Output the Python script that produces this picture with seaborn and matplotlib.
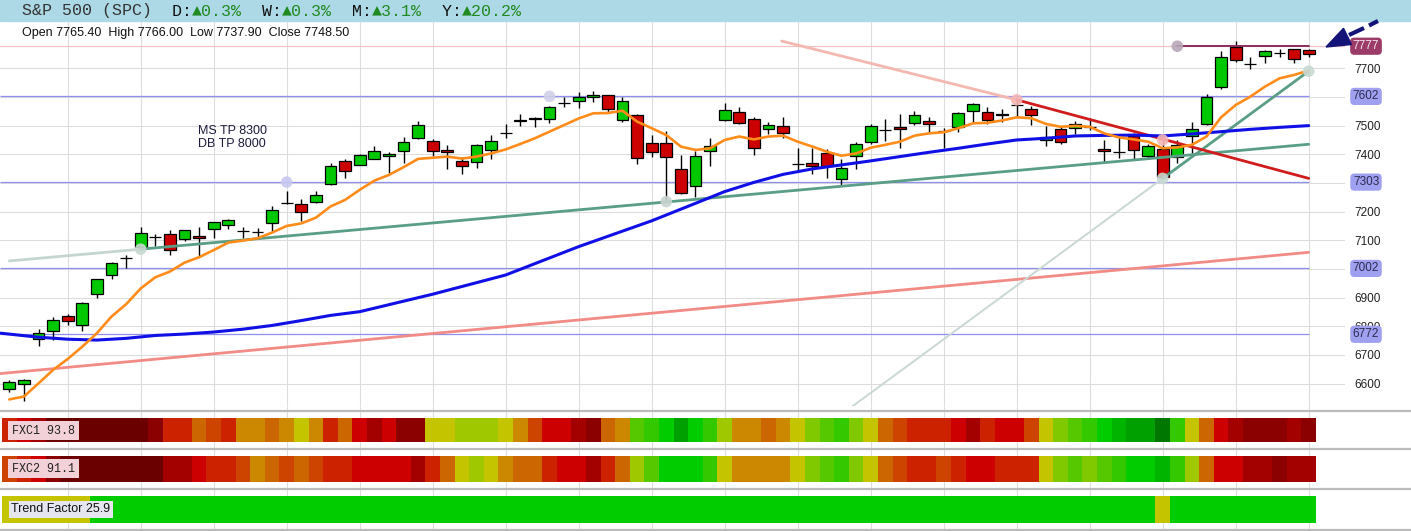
import numpy as np
import seaborn as sns
import matplotlib.pyplot as plt
from matplotlib.colors import ListedColormap
from matplotlib.patches import Rectangle, Polygon

# ---- candles ----
opens = [6583, 6600, 6755, 6783, 6835, 6804, 6912, 6978, 7037, 7076,
         7112, 7121, 7104, 7114, 7138, 7152, 7134, 7130, 7159, 7231,
         7226, 7235, 7295, 7376, 7364, 7385, 7393, 7410, 7458, 7445,
         7414, 7376, 7372, 7414, 7474, 7518, 7525, 7523, 7579, 7586,
         7601, 7606, 7519, 7537, 7439, 7439, 7348, 7288, 7413, 7519,
         7547, 7522, 7487, 7498, 7365, 7369, 7403, 7313, 7393, 7442,
         7485, 7494, 7508, 7515, 7481, 7494, 7550, 7547, 7542, 7571,
         7557, 7449, 7487, 7491, 7496, 7419, 7409, 7464, 7395, 7419,
         7389, 7464, 7505, 7634, 7773, 7714, 7743, 7755, 7766, 7765.4]
highs = [6611, 6615, 6790, 6833, 6843, 6884, 6966, 7024, 7049, 7145,
         7121, 7135, 7136, 7145, 7164, 7176, 7148, 7142, 7220, 7272,
         7243, 7271, 7370, 7384, 7401, 7429, 7408, 7460, 7516, 7453,
         7431, 7392, 7436, 7467, 7506, 7539, 7530, 7570, 7599, 7616,
         7621, 7606, 7601, 7542, 7467, 7481, 7398, 7412, 7458, 7580,
         7565, 7530, 7512, 7530, 7423, 7423, 7417, 7385, 7443, 7506,
         7523, 7540, 7551, 7530, 7491, 7549, 7579, 7565, 7558, 7598,
         7567, 7498, 7500, 7517, 7526, 7450, 7462, 7473, 7435, 7450,
         7450, 7513, 7610, 7760, 7795, 7738, 7764, 7769, 7769, 7766.0]
lows = [6572, 6540, 6733, 6752, 6804, 6785, 6900, 6964, 7005, 7066,
        7080, 7047, 7099, 7041, 7109, 7141, 7109, 7112, 7129, 7226,
        7169, 7231, 7292, 7319, 7362, 7384, 7336, 7371, 7452, 7394,
        7350, 7330, 7353, 7385, 7456, 7500, 7496, 7508, 7564, 7560,
        7581, 7549, 7514, 7365, 7392, 7236, 7262, 7252, 7360, 7515,
        7507, 7398, 7470, 7456, 7343, 7333, 7319, 7293, 7348, 7435,
        7448, 7423, 7502, 7473, 7421, 7479, 7510, 7505, 7512, 7531,
        7502, 7430, 7437, 7472, 7485, 7374, 7386, 7383, 7387, 7316,
        7369, 7403, 7502, 7628, 7721, 7696, 7720, 7741, 7717, 7737.9]
closes = [6605, 6611, 6778, 6821, 6817, 6880, 6964, 7020, 7037, 7126,
          7110, 7065, 7135, 7107, 7163, 7170, 7134, 7130, 7205, 7231,
          7200, 7257, 7360, 7341, 7396, 7412, 7400, 7443, 7502, 7412,
          7407, 7358, 7431, 7445, 7474, 7515, 7522, 7564, 7579, 7600,
          7608, 7557, 7585, 7386, 7408, 7389, 7266, 7394, 7430, 7553,
          7510, 7421, 7501, 7473, 7365, 7358, 7358, 7351, 7437, 7498,
          7485, 7487, 7536, 7505, 7481, 7543, 7574, 7519, 7538, 7571,
          7536, 7459, 7444, 7507, 7496, 7412, 7407, 7415, 7428, 7321,
          7434, 7487, 7599, 7738, 7728, 7714, 7759, 7755, 7732, 7748.5]

# ---- moving averages ----
fast_ma = [6545, 6555, 6601, 6648, 6686, 6729, 6776, 6834, 6877, 6932,
           6971, 6991, 7022, 7041, 7066, 7092, 7099, 7107, 7127, 7150,
           7159, 7179, 7218, 7241, 7276, 7308, 7328, 7355, 7384, 7388,
           7392, 7385, 7392, 7403, 7417, 7436, 7456, 7479, 7502, 7525,
           7543, 7544, 7552, 7514, 7491, 7467, 7427, 7415, 7421, 7450,
           7462, 7452, 7462, 7465, 7444, 7427, 7409, 7395, 7403, 7423,
           7433, 7444, 7465, 7473, 7477, 7491, 7508, 7510, 7518, 7529,
           7526, 7506, 7496, 7499, 7496, 7473, 7459, 7452, 7444, 7421,
           7424, 7433, 7462, 7529, 7572, 7601, 7636, 7665, 7677, 7692]
slow_ma_at = [-0.6, 2, 4, 6, 8, 10, 12, 14, 16, 18, 20, 22, 24, 29, 34, 39,
              44, 47, 49, 51, 53, 55, 57, 59, 61, 63, 65, 67, 69, 71, 73,
              75, 77, 79, 81, 83, 85, 87, 89]
slow_ma = [6776, 6762, 6755, 6752, 6758, 6768, 6773, 6780, 6790, 6803,
           6820, 6838, 6851, 6912, 6979, 7078, 7168, 7229, 7270, 7302,
           7330, 7349, 7363, 7377, 7392, 7407, 7421, 7436, 7450, 7456,
           7464, 7466, 7467, 7464, 7471, 7479, 7487, 7494, 7500]

# ---- drawn levels / trend lines ----
level_values = [7602, 7303, 7002, 6772]
top_level = 7777
support_line = ([0, 9, 89], [7028, 7069, 7435])
steep_line = ([55, 79, 89], [6418, 7316, 7690])
falling_line = ([52.9, 69, 89], [7795, 7590, 7316])
rising_line = ([-0.64, 89], [6635, 7058])
anchor_at = [19, 37, 9, 45, 69, 79, 79, 89, 80]
anchor_val = [7303, 7602, 7069, 7235, 7590, 7450, 7316, 7690, 7777]
anchor_col = ['#c8c8f2', '#d0d0e8', '#c9d9d2', '#c9d3d0', '#f6b6b6',
              '#f6b6b6', '#c9d9d2', '#c9d9d2', '#b8a6b8']

# ---- indicator strips (colour step per candle) ----
fxc1 = [4, 3, 2, 0, 0, 0, 0, 0, 0, 0, 1, 4, 4, 6, 5, 4, 7, 7, 6, 7,
        8, 7, 4, 6, 3, 2, 3, 1, 1, 8, 8, 9, 9, 9, 8, 7, 5, 3, 3, 2,
        1, 6, 7, 11, 12, 13, 15, 13, 12, 9, 7, 7, 6, 7, 8, 10, 11, 12, 10, 8,
        6, 5, 4, 4, 4, 3, 2, 4, 3, 3, 5, 8, 10, 11, 12, 13, 14, 15, 15, 16,
        12, 8, 6, 3, 2, 1, 1, 1, 2, 1]
fxc2 = [5, 4, 3, 1, 0, 0, 0, 0, 0, 0, 0, 2, 2, 3, 4, 4, 5, 7, 6, 5,
        6, 5, 4, 4, 3, 3, 3, 3, 2, 4, 6, 8, 9, 8, 7, 6, 6, 4, 3, 3,
        2, 4, 6, 9, 11, 13, 13, 13, 12, 8, 7, 7, 7, 7, 8, 10, 11, 12, 10, 8,
        6, 5, 4, 4, 5, 4, 3, 3, 4, 4, 4, 8, 10, 11, 10, 11, 12, 13, 13, 14,
        12, 9, 6, 3, 3, 2, 2, 1, 2, 2]
trend = [8] * 6 + [13] * 73 + [8] + [13] * 10
strip_palette = ['#6b0000', '#8b0000', '#a30000', '#cc0000', '#cc2200',
                 '#cc4400', '#cc6600', '#cc8800', '#c4c400', '#a0c800',
                 '#80c800', '#55c800', '#33c800', '#00cc00', '#00b400',
                 '#00a000', '#007800']

W, H = 1411, 531
PX0, STEP = 9.3, 14.6            # pixel of candle 0 and candle spacing


def px_to_i(px):
    return (px - PX0) / STEP


sns.set_style('white')
plt.rcParams['font.family'] = ['Liberation Sans', 'DejaVu Sans']
mono = ['Liberation Mono', 'DejaVu Sans Mono']

fig = plt.figure(figsize=(W / 100, H / 100), dpi=100)
fig.patch.set_facecolor('white')

# ---- main price panel ----
ax = fig.add_axes([0, 1 - 406 / H, 1345 / W, 384 / H])
idx = np.arange(len(opens))
o, c = np.array(opens), np.array(closes)
body_col = np.where(c >= o, '#00c800', '#cc0000')
ax.vlines(idx, lows, highs, color='black', lw=1.0, zorder=2)
ax.bar(idx, np.abs(c - o), bottom=np.minimum(o, c), width=0.8,
       color=body_col, edgecolor='black', linewidth=0.9, zorder=2.2)

ax.axhline(top_level, color='#f2c2c2', lw=0.9, zorder=1.5)
ax.hlines(level_values, px_to_i(0), 89, color='#8f8ff0', lw=0.9, zorder=1.6)
ax.plot([80, 89], [top_level, top_level], color='#8c2d5e', lw=1.4, zorder=3)

ax.plot(rising_line[0], rising_line[1], color='#f28b86', lw=2, zorder=3)
ax.plot(support_line[0][:2], support_line[1][:2], color='#c6d6cf', lw=2, zorder=3)
ax.plot(support_line[0][1:], support_line[1][1:], color='#5a9e86', lw=2, zorder=3)
ax.plot(steep_line[0][:2], steep_line[1][:2], color='#c9d8d4', lw=1.4, zorder=3)
ax.plot(steep_line[0][1:], steep_line[1][1:], color='#5a9e86', lw=2, zorder=3)
ax.plot(falling_line[0][:2], falling_line[1][:2], color='#f5b8b0', lw=2, zorder=3)
ax.plot(falling_line[0][1:], falling_line[1][1:], color='#d01c1c', lw=2, zorder=3)

sns.lineplot(x=slow_ma_at, y=slow_ma, ax=ax, color='#1010e6', lw=2.2, zorder=4)
sns.lineplot(x=idx, y=fast_ma, ax=ax, color='#ff8c1a', lw=1.9, zorder=4)
ax.scatter(anchor_at, anchor_val, s=70, c=anchor_col, edgecolors='none',
           alpha=0.9, zorder=5)

ax.set_xlim(px_to_i(0), px_to_i(1345))
ax.set_ylim(6522, 7861.5)
ax.set_xticks(np.arange(4, 90, 5))
ax.set_yticks(range(6600, 7800, 100))
ax.yaxis.tick_right()
ax.tick_params(axis='x', length=0, labelbottom=False)
ax.tick_params(axis='y', length=0, pad=7, labelsize=8.5, labelcolor='#222222')
ax.grid(True, color='#dddddd', lw=0.8)
ax.set_axisbelow(True)
ax.set(xlabel='', ylabel='')
for s in ax.spines.values():
    s.set_visible(False)

box_x = px_to_i(1366)
for v in level_values:
    ax.text(box_x, v, str(v), ha='center', va='center', fontsize=8.5,
            color='#2a2a50', clip_on=False, zorder=6,
            bbox=dict(boxstyle='round,pad=0.22,rounding_size=0.35',
                      fc='#a0a0f0', ec='none'))
ax.text(box_x, top_level, str(top_level), ha='center', va='center',
        fontsize=8.5, color='#f4e4ec', clip_on=False, zorder=6,
        bbox=dict(boxstyle='round,pad=0.22,rounding_size=0.35',
                  fc='#9c3a68', ec='none'))

# ---- lower panel background (grid + separators) ----
low = fig.add_axes([0, 0, 1, 125 / H])
low.set_xlim(px_to_i(0), px_to_i(W))
low.set_ylim(531, 406)
low.vlines(np.arange(4, 90, 5), 406, 531, color='#dddddd', lw=0.8)
low.hlines([410.7, 448.7, 488.7, 529.6], px_to_i(0), px_to_i(W),
           color='#bbbbbb', lw=1.6)
low.axis('off')

cmap = ListedColormap(strip_palette)
strips = [(fxc1, 417.7, 441.7), (fxc2, 455.7, 481.7), (trend, 495.7, 522.7)]
for vals, top, bot in strips:
    sax = fig.add_axes([2 / W, 1 - bot / H, len(vals) * STEP / W, (bot - top) / H])
    sns.heatmap(np.array([vals]), ax=sax, cmap=cmap, vmin=-0.5,
                vmax=len(strip_palette) - 0.5, cbar=False,
                xticklabels=False, yticklabels=False, linewidths=0)
    sax.set(xlabel='', ylabel='')

# ---- overlay in pixel coordinates: header, texts, arrow ----
ov = fig.add_axes([0, 0, 1, 1], zorder=10)
ov.set_xlim(0, W)
ov.set_ylim(H, 0)
ov.axis('off')
ov.add_patch(Rectangle((0, 0), W, 21, color='#add8e6', zorder=0))

header = [('S&P 500 (SPC)', '#333333'), ('  D:', '#111111'), ('▲0.3%', '#1f8a1f'),
          ('  W:', '#111111'), ('▲0.3%', '#1f8a1f'), ('  M:', '#111111'),
          ('▲3.1%', '#1f8a1f'), ('  Y:', '#111111'), ('▲20.2%', '#1f8a1f')]
k = 0
for txt, col in header:
    ov.text(22 + 10 * k, 11, txt, family=mono, fontsize=12, color=col,
            ha='left', va='center')
    k += len(txt)

ov.text(22, 33, 'Open 7765.40  High 7766.00  Low 7737.90  Close 7748.50',
        fontsize=9, color='#111111', ha='left', va='center')
ov.text(198, 131, 'MS TP 8300', fontsize=9, color='#1c1c3c', va='center')
ov.text(198, 144, 'DB TP 8000', fontsize=9, color='#1c1c3c', va='center')

ov.text(12, 430.5, 'FXC1 93.8', family=mono, fontsize=8.5, color='#222222',
        va='center', bbox=dict(boxstyle='square,pad=0.3', fc='#f2d2d8', ec='none'))
ov.text(12, 468.5, 'FXC2 91.1', family=mono, fontsize=8.5, color='#222222',
        va='center', bbox=dict(boxstyle='square,pad=0.3', fc='#f2d2d8', ec='none'))
ov.text(11, 509, 'Trend Factor 25.9', fontsize=9, color='#111111',
        va='center', bbox=dict(boxstyle='square,pad=0.2', fc='#e6e6f0', ec='none'))

# arrow pointing at the 7777 level
ov.plot([1349, 1364], [35, 28], color='#141478', lw=3, solid_capstyle='butt')
ov.plot([1369, 1378], [25.5, 21], color='#141478', lw=3, solid_capstyle='butt')
ov.add_patch(Polygon([(1326, 47), (1351.5, 44.5), (1343.5, 28.3)],
                     closed=True, color='#141478'))

fig.savefig('out.png', dpi=100)
